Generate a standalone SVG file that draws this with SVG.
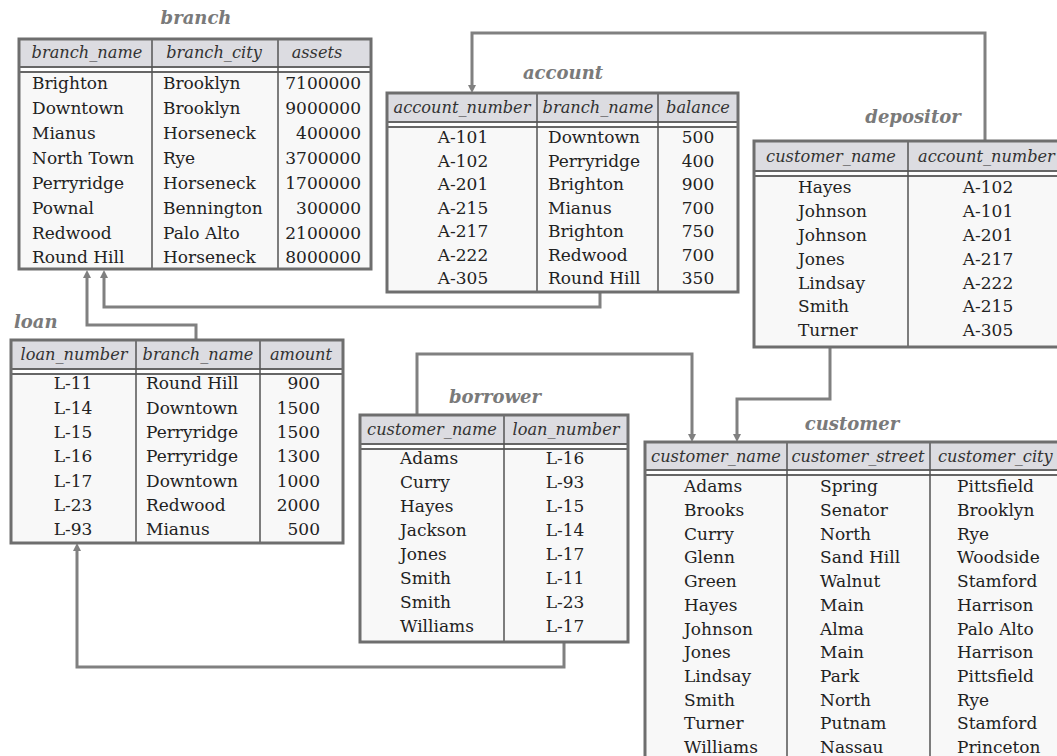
<svg xmlns="http://www.w3.org/2000/svg" width="1057" height="756" viewBox="0 0 1057 756">
<style>
.t{font-family:"DejaVu Serif","Liberation Serif",serif;font-size:18px;font-weight:bold;font-style:italic;fill:#7a7a7a}
.h{font-family:"DejaVu Serif","Liberation Serif",serif;font-size:16.2px;font-style:italic;fill:#333}
.b{font-family:"DejaVu Serif","Liberation Serif",serif;font-size:17px;fill:#222}
.m{text-anchor:middle}
.e{text-anchor:end}
.body{fill:#f8f8f8}
.hd{fill:#dcdce1}
.frame{fill:none;stroke:#6e6e6e;stroke-width:3}
.hl{stroke:#666;stroke-width:2}
.col{stroke:#555;stroke-width:1.5}
.conn{fill:none;stroke:#808080;stroke-width:3}
</style>
<defs>
<marker id="arr" viewBox="0 0 10 10" refX="0" refY="5" markerWidth="8" markerHeight="8" markerUnits="userSpaceOnUse" orient="auto">
<path d="M0,0 L10,5 L0,10 z" fill="#808080"/>
</marker>
</defs>
<rect width="1057" height="756" fill="#ffffff"/>

<g id="connectors">
<path class="conn" d="M985,141 V33 H472 V85" marker-end="url(#arr)"/>
<path class="conn" d="M600,292 V307 H104 V278" marker-end="url(#arr)"/>
<path class="conn" d="M196,340 V325 H87 V278" marker-end="url(#arr)"/>
<path class="conn" d="M417,415 V354 H692 V434" marker-end="url(#arr)"/>
<path class="conn" d="M830,347 V399 H737 V434" marker-end="url(#arr)"/>
<path class="conn" d="M564,642 V667 H77 V551" marker-end="url(#arr)"/>
</g>

<g id="branch">
<text class="t m" x="196" y="24">branch</text>
<rect class="body" x="19" y="39" width="352" height="230"/>
<rect class="hd" x="19" y="39" width="352" height="28"/>
<rect x="19" y="68" width="352" height="3" fill="#ffffff"/>
<line class="hl" x1="19" y1="67" x2="371" y2="67"/>
<line class="hl" x1="19" y1="72" x2="371" y2="72"/>
<line class="col" x1="152" y1="39" x2="152" y2="269"/>
<line class="col" x1="278" y1="39" x2="278" y2="269"/>
<rect class="frame" x="19" y="39" width="352" height="230"/>
<text class="h m" x="87" y="58">branch_name</text>
<text class="h m" x="214" y="58">branch_city</text>
<text class="h m" x="317" y="58">assets</text>
<g class="b">
<text x="32" y="89">Brighton</text><text x="163" y="89">Brooklyn</text><text class="e" x="361" y="89">7100000</text>
<text x="32" y="114">Downtown</text><text x="163" y="114">Brooklyn</text><text class="e" x="361" y="114">9000000</text>
<text x="32" y="139">Mianus</text><text x="163" y="139">Horseneck</text><text class="e" x="361" y="139">400000</text>
<text x="32" y="164">North Town</text><text x="163" y="164">Rye</text><text class="e" x="361" y="164">3700000</text>
<text x="32" y="189">Perryridge</text><text x="163" y="189">Horseneck</text><text class="e" x="361" y="189">1700000</text>
<text x="32" y="214">Pownal</text><text x="163" y="214">Bennington</text><text class="e" x="361" y="214">300000</text>
<text x="32" y="239">Redwood</text><text x="163" y="239">Palo Alto</text><text class="e" x="361" y="239">2100000</text>
<text x="32" y="263">Round Hill</text><text x="163" y="263">Horseneck</text><text class="e" x="361" y="263">8000000</text>
</g>
</g>

<g id="account">
<text class="t m" x="563" y="79">account</text>
<rect class="body" x="387" y="93" width="351" height="199"/>
<rect class="hd" x="387" y="93" width="351" height="29"/>
<rect x="387" y="123" width="351" height="3" fill="#ffffff"/>
<line class="hl" x1="387" y1="122" x2="738" y2="122"/>
<line class="hl" x1="387" y1="127" x2="738" y2="127"/>
<line class="col" x1="537" y1="93" x2="537" y2="292"/>
<line class="col" x1="658" y1="93" x2="658" y2="292"/>
<rect class="frame" x="387" y="93" width="351" height="199"/>
<text class="h m" x="462" y="113">account_number</text>
<text class="h m" x="598" y="113">branch_name</text>
<text class="h m" x="698" y="113">balance</text>
<g class="b">
<text class="m" x="463" y="143">A-101</text><text x="548" y="143">Downtown</text><text class="m" x="698" y="143">500</text>
<text class="m" x="463" y="167">A-102</text><text x="548" y="167">Perryridge</text><text class="m" x="698" y="167">400</text>
<text class="m" x="463" y="190">A-201</text><text x="548" y="190">Brighton</text><text class="m" x="698" y="190">900</text>
<text class="m" x="463" y="214">A-215</text><text x="548" y="214">Mianus</text><text class="m" x="698" y="214">700</text>
<text class="m" x="463" y="237">A-217</text><text x="548" y="237">Brighton</text><text class="m" x="698" y="237">750</text>
<text class="m" x="463" y="261">A-222</text><text x="548" y="261">Redwood</text><text class="m" x="698" y="261">700</text>
<text class="m" x="463" y="284">A-305</text><text x="548" y="284">Round Hill</text><text class="m" x="698" y="284">350</text>
</g>
</g>

<g id="depositor">
<text class="t m" x="913" y="123">depositor</text>
<rect class="body" x="754" y="141" width="340" height="206"/>
<rect class="hd" x="754" y="141" width="340" height="30"/>
<rect x="754" y="172" width="340" height="3" fill="#ffffff"/>
<line class="hl" x1="754" y1="171" x2="1094" y2="171"/>
<line class="hl" x1="754" y1="176" x2="1094" y2="176"/>
<line class="col" x1="908" y1="141" x2="908" y2="347"/>
<rect class="frame" x="754" y="141" width="340" height="206"/>
<text class="h m" x="831" y="162">customer_name</text>
<text class="h" x="918" y="162">account_number</text>
<g class="b">
<text x="798" y="193">Hayes</text><text class="m" x="988" y="193">A-102</text>
<text x="798" y="217">Johnson</text><text class="m" x="988" y="217">A-101</text>
<text x="798" y="241">Johnson</text><text class="m" x="988" y="241">A-201</text>
<text x="798" y="265">Jones</text><text class="m" x="988" y="265">A-217</text>
<text x="798" y="289">Lindsay</text><text class="m" x="988" y="289">A-222</text>
<text x="798" y="312">Smith</text><text class="m" x="988" y="312">A-215</text>
<text x="798" y="336">Turner</text><text class="m" x="988" y="336">A-305</text>
</g>
</g>

<g id="loan">
<text class="t" x="14" y="328">loan</text>
<rect class="body" x="11" y="340" width="332" height="203"/>
<rect class="hd" x="11" y="340" width="332" height="29"/>
<rect x="11" y="370" width="332" height="3" fill="#ffffff"/>
<line class="hl" x1="11" y1="369" x2="343" y2="369"/>
<line class="hl" x1="11" y1="374" x2="343" y2="374"/>
<line class="col" x1="136" y1="340" x2="136" y2="543"/>
<line class="col" x1="260" y1="340" x2="260" y2="543"/>
<rect class="frame" x="11" y="340" width="332" height="203"/>
<text class="h m" x="74" y="360">loan_number</text>
<text class="h m" x="198" y="360">branch_name</text>
<text class="h m" x="301" y="360">amount</text>
<g class="b">
<text class="m" x="73" y="389">L-11</text><text x="146" y="389">Round Hill</text><text class="e" x="320" y="389">900</text>
<text class="m" x="73" y="414">L-14</text><text x="146" y="414">Downtown</text><text class="e" x="320" y="414">1500</text>
<text class="m" x="73" y="438">L-15</text><text x="146" y="438">Perryridge</text><text class="e" x="320" y="438">1500</text>
<text class="m" x="73" y="462">L-16</text><text x="146" y="462">Perryridge</text><text class="e" x="320" y="462">1300</text>
<text class="m" x="73" y="487">L-17</text><text x="146" y="487">Downtown</text><text class="e" x="320" y="487">1000</text>
<text class="m" x="73" y="511">L-23</text><text x="146" y="511">Redwood</text><text class="e" x="320" y="511">2000</text>
<text class="m" x="73" y="535">L-93</text><text x="146" y="535">Mianus</text><text class="e" x="320" y="535">500</text>
</g>
</g>

<g id="borrower">
<text class="t m" x="495" y="403">borrower</text>
<rect class="body" x="360" y="415" width="268" height="227"/>
<rect class="hd" x="360" y="415" width="268" height="29"/>
<rect x="360" y="445" width="268" height="3" fill="#ffffff"/>
<line class="hl" x1="360" y1="444" x2="628" y2="444"/>
<line class="hl" x1="360" y1="449" x2="628" y2="449"/>
<line class="col" x1="504" y1="415" x2="504" y2="642"/>
<rect class="frame" x="360" y="415" width="268" height="227"/>
<text class="h m" x="432" y="435">customer_name</text>
<text class="h m" x="566" y="435">loan_number</text>
<g class="b">
<text x="400" y="464">Adams</text><text class="m" x="565" y="464">L-16</text>
<text x="400" y="488">Curry</text><text class="m" x="565" y="488">L-93</text>
<text x="400" y="512">Hayes</text><text class="m" x="565" y="512">L-15</text>
<text x="400" y="536">Jackson</text><text class="m" x="565" y="536">L-14</text>
<text x="400" y="560">Jones</text><text class="m" x="565" y="560">L-17</text>
<text x="400" y="584">Smith</text><text class="m" x="565" y="584">L-11</text>
<text x="400" y="608">Smith</text><text class="m" x="565" y="608">L-23</text>
<text x="400" y="632">Williams</text><text class="m" x="565" y="632">L-17</text>
</g>
</g>

<g id="customer">
<text class="t m" x="852" y="430">customer</text>
<rect class="body" x="645" y="442" width="500" height="400"/>
<rect class="hd" x="645" y="442" width="500" height="28"/>
<rect x="645" y="471" width="500" height="3" fill="#ffffff"/>
<line class="hl" x1="645" y1="470" x2="1145" y2="470"/>
<line class="hl" x1="645" y1="475" x2="1145" y2="475"/>
<line class="col" x1="787" y1="442" x2="787" y2="842"/>
<line class="col" x1="930" y1="442" x2="930" y2="842"/>
<rect class="frame" x="645" y="442" width="500" height="400"/>
<text class="h m" x="716" y="462">customer_name</text>
<text class="h m" x="858" y="462">customer_street</text>
<text class="h" x="938" y="462">customer_city</text>
<g class="b">
<text x="684" y="492">Adams</text><text x="820" y="492">Spring</text><text x="957" y="492">Pittsfield</text>
<text x="684" y="516">Brooks</text><text x="820" y="516">Senator</text><text x="957" y="516">Brooklyn</text>
<text x="684" y="540">Curry</text><text x="820" y="540">North</text><text x="957" y="540">Rye</text>
<text x="684" y="563">Glenn</text><text x="820" y="563">Sand Hill</text><text x="957" y="563">Woodside</text>
<text x="684" y="587">Green</text><text x="820" y="587">Walnut</text><text x="957" y="587">Stamford</text>
<text x="684" y="611">Hayes</text><text x="820" y="611">Main</text><text x="957" y="611">Harrison</text>
<text x="684" y="635">Johnson</text><text x="820" y="635">Alma</text><text x="957" y="635">Palo Alto</text>
<text x="684" y="658">Jones</text><text x="820" y="658">Main</text><text x="957" y="658">Harrison</text>
<text x="684" y="682">Lindsay</text><text x="820" y="682">Park</text><text x="957" y="682">Pittsfield</text>
<text x="684" y="706">Smith</text><text x="820" y="706">North</text><text x="957" y="706">Rye</text>
<text x="684" y="729">Turner</text><text x="820" y="729">Putnam</text><text x="957" y="729">Stamford</text>
<text x="684" y="753">Williams</text><text x="820" y="753">Nassau</text><text x="957" y="753">Princeton</text>
</g>
</g>
</svg>
